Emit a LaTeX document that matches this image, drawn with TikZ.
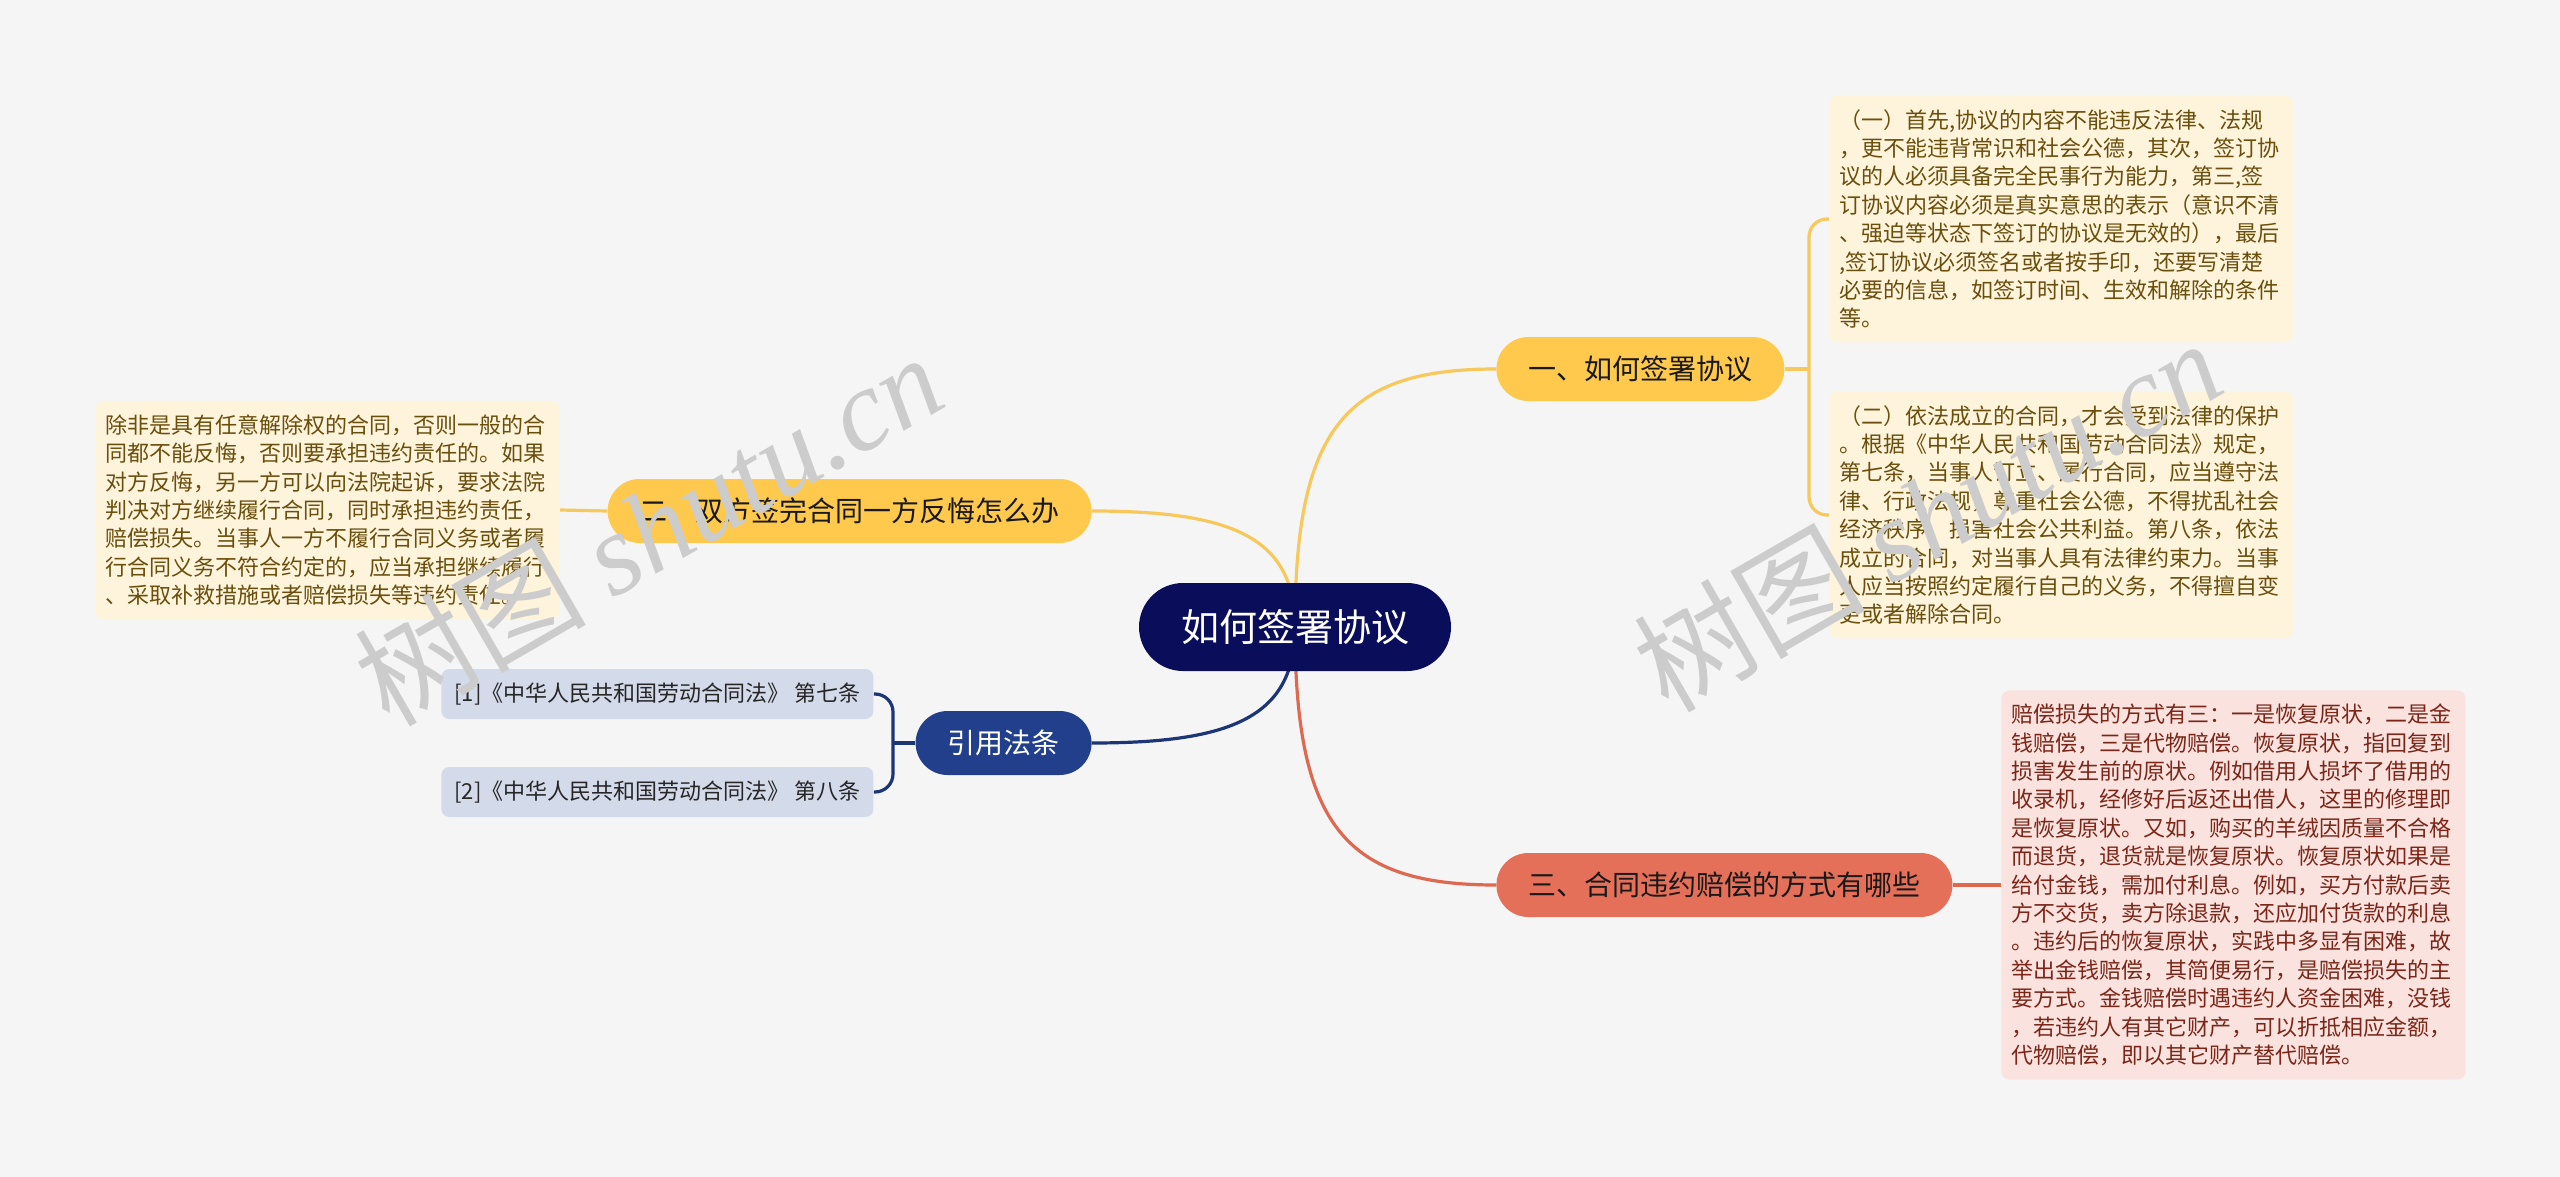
\documentclass[tikz,border=0pt]{standalone}
\usepackage{fontspec}
\setmainfont{Noto Sans CJK SC}
\newfontfamily\wmfont{Liberation Serif}
\usetikzlibrary{backgrounds}
\definecolor{bgcol}{HTML}{F5F5F5}
\definecolor{rootcol}{HTML}{0A0E5A}
\definecolor{yelcol}{HTML}{FEC94C}
\definecolor{yelline}{HTML}{F7C85C}
\definecolor{redcol}{HTML}{E4705A}
\definecolor{redline}{HTML}{DD6A50}
\definecolor{navycol}{HTML}{213F8B}
\definecolor{navyline}{HTML}{1B3577}
\definecolor{creamcol}{HTML}{FEF4DC}
\definecolor{creamtxt}{HTML}{6A4E0C}
\definecolor{pinkcol}{HTML}{FAE3DF}
\definecolor{pinktxt}{HTML}{7B2618}
\definecolor{refcol}{HTML}{D3DAE9}
\begin{document}
\begin{tikzpicture}[x=0.5pt,y=-0.5pt,line cap=round,
	rootnode/.style={fill=rootcol,text=white,rounded corners=22pt,minimum height=44pt,inner xsep=21pt,font=\fontsize{19pt}{22pt}\selectfont},
	mainnode/.style={rounded corners=16pt,minimum height=32pt,inner xsep=16pt,font=\fontsize{14pt}{16pt}\selectfont},
	notebox/.style={rounded corners=4pt,text width=222pt,align=left,inner xsep=5pt,inner ysep=6.8pt,font=\fontsize{11pt}{14.2pt}\selectfont},
	refbox/.style={fill=refcol,text=black!85,rounded corners=4pt,minimum height=25pt,minimum width=216pt,inner xsep=6pt,font=\fontsize{11pt}{13pt}\selectfont},
	link/.style={line width=1.6pt},
	wmark/.style={text=black!20,rotate=30,font=\fontsize{58pt}{58pt}\selectfont}]
	\useasboundingbox (0,0) rectangle (2560,1177);
	% central topic
	\node[rootnode] (root) at (1295,627) {如何签署协议};
	% main branches
	\node[mainnode,fill=yelcol,text=black!90,anchor=west] (one) at (1496,369) {一、如何签署协议};
	\node[mainnode,fill=yelcol,text=black!90,anchor=east] (two) at (1092,511) {二、双方签完合同一方反悔怎么办};
	\node[mainnode,fill=navycol,text=white,anchor=east] (cite) at (1092,743) {引用法条};
	\node[mainnode,fill=redcol,text=black!90,anchor=west] (three) at (1496,885) {三、合同违约赔偿的方式有哪些};
	% notes
	\node[notebox,fill=creamcol,text=creamtxt,anchor=west] (n1) at (1829,219) {（一）首先,协议的内容不能违反法律、法规\\，更不能违背常识和社会公德，其次，签订协\\议的人必须具备完全民事行为能力，第三,签\\订协议内容必须是真实意思的表示（意识不清\\、强迫等状态下签订的协议是无效的），最后\\,签订协议必须签名或者按手印，还要写清楚\\必要的信息，如签订时间、生效和解除的条件\\等。};
	\node[notebox,fill=creamcol,text=creamtxt,anchor=west] (n2) at (1829,515) {（二）依法成立的合同，才会受到法律的保护\\。根据《中华人民共和国劳动合同法》规定，\\第七条，当事人订立、履行合同，应当遵守法\\律、行政法规，尊重社会公德，不得扰乱社会\\经济秩序，损害社会公共利益。第八条，依法\\成立的合同，对当事人具有法律约束力。当事\\人应当按照约定履行自己的义务，不得擅自变\\更或者解除合同。};
	\node[notebox,fill=pinkcol,text=pinktxt,anchor=west] (n3) at (2001,885) {赔偿损失的方式有三：一是恢复原状，二是金\\钱赔偿，三是代物赔偿。恢复原状，指回复到\\损害发生前的原状。例如借用人损坏了借用的\\收录机，经修好后返还出借人，这里的修理即\\是恢复原状。又如，购买的羊绒因质量不合格\\而退货，退货就是恢复原状。恢复原状如果是\\给付金钱，需加付利息。例如，买方付款后卖\\方不交货，卖方除退款，还应加付货款的利息\\。违约后的恢复原状，实践中多显有困难，故\\举出金钱赔偿，其简便易行，是赔偿损失的主\\要方式。金钱赔偿时遇违约人资金困难，没钱\\，若违约人有其它财产，可以折抵相应金额，\\代物赔偿，即以其它财产替代赔偿。};
	\node[notebox,fill=creamcol,text=creamtxt,anchor=east] (n4) at (560,510) {除非是具有任意解除权的合同，否则一般的合\\同都不能反悔，否则要承担违约责任的。如果\\对方反悔，另一方可以向法院起诉，要求法院\\判决对方继续履行合同，同时承担违约责任，\\赔偿损失。当事人一方不履行合同义务或者履\\行合同义务不符合约定的，应当承担继续履行\\、采取补救措施或者赔偿损失等违约责任。};
	\node[refbox,anchor=west] (r1) at (441,694) {[1]《中华人民共和国劳动合同法》 第七条};
	\node[refbox,anchor=west] (r2) at (441,792) {[2]《中华人民共和国劳动合同法》 第八条};
	\coordinate (j1) at (1809,369);
	\coordinate (j2) at (893,743);
	\begin{scope}[on background layer]
		\fill[bgcol] (0,0) rectangle (2560,1177);
		\draw[link,yelline] (root.center) .. controls +(0,-200) and +(-150,0) .. (one.west);
		\draw[link,yelline] (root.center) .. controls +(0,-90) and +(140,0) .. (two.east);
		\draw[link,navyline] (root.center) .. controls +(0,90) and +(140,0) .. (cite.east);
		\draw[link,redline] (root.center) .. controls +(0,200) and +(-150,0) .. (three.west);
		\draw[link,yelline] (one.east) -- (j1);
		\draw[link,yelline,rounded corners=9pt] (n1.west) -| (j1) |- (n2.west);
		\draw[link,redline] (three.east) -- (n3.west);
		\draw[link,yelline] (two.west) -- (n4.east);
		\draw[link,navyline] (cite.west) -- (j2);
		\draw[link,navyline,rounded corners=9pt] (r1.east) -| (j2) |- (r2.east);
	\end{scope}
	% watermark
	\node[wmark] (wm1) at (648,528) {树图 {\wmfont\itshape shutu.cn}};
	\node[wmark] (wm2) at (1927,514) {树图 {\wmfont\itshape shutu.cn}};
\end{tikzpicture}
\end{document}
